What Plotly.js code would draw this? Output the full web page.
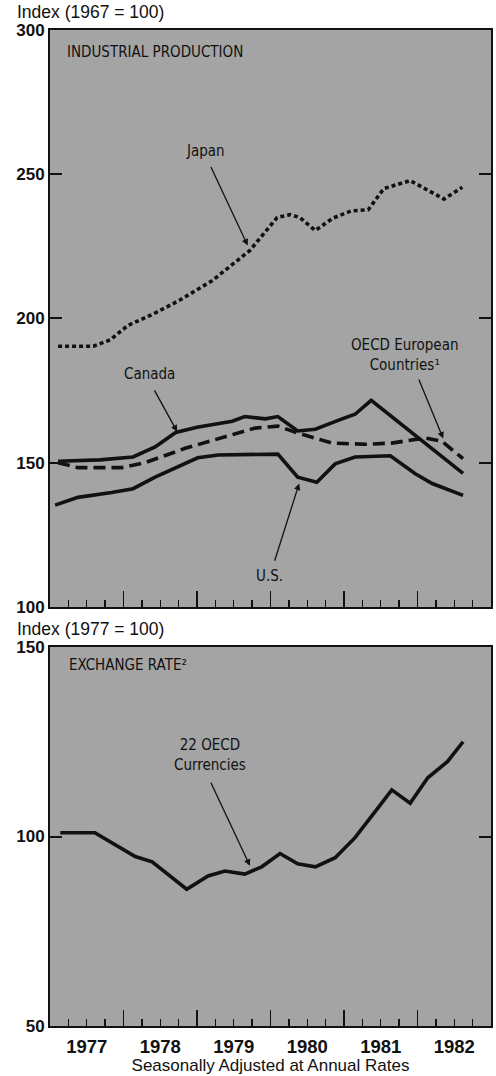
<!DOCTYPE html>
<html>
<head>
<meta charset="utf-8">
<script src="https://cdn.plot.ly/plotly-3.0.1.min.js"></script>
<style>html,body{margin:0;padding:0;background:#fff;} #chart{width:496px;height:1076px;}</style>
</head>
<body>
<div id="chart"></div>
<script>
// ---- Data ----
const yearBoundaries = [1978, 1979, 1980, 1981, 1982];
const yearLabelPos = [1977.5, 1978.5, 1979.5, 1980.5, 1981.5, 1982.5];
const yearLabels = ['1977', '1978', '1979', '1980', '1981', '1982'];
const ipTicks = [100, 150, 200, 250, 300];
const fxTicks = [50, 100, 150];

const japanT = [1977.11, 1977.59, 1977.82, 1978.06, 1978.40, 1978.74, 1979.20, 1979.45, 1979.72, 1980.09, 1980.27, 1980.40, 1980.61, 1980.85, 1981.10, 1981.33, 1981.54, 1981.90, 1982.36, 1982.61];
const japanV = [190.4, 190.4, 192.6, 197.6, 201.5, 206, 213, 218, 223.6, 235, 236, 235, 230.5, 234.8, 237.3, 237.7, 245, 247.8, 241.4, 245.5];

const canadaT = [1977.11, 1977.68, 1978.13, 1978.43, 1978.71, 1979.00, 1979.48, 1979.65, 1979.93, 1980.10, 1980.37, 1980.61, 1980.92, 1981.15, 1981.37, 1982.62];
const canadaV = [150.5, 151, 152, 155.5, 160.5, 162.3, 164.4, 166, 165.2, 166, 161, 161.6, 164.7, 166.8, 171.6, 146.3];

const oecdT = [1977.11, 1977.38, 1977.98, 1978.29, 1978.84, 1979.34, 1979.79, 1980.10, 1980.37, 1980.84, 1981.29, 1981.65, 1982.10, 1982.33, 1982.62];
const oecdV = [150, 148.3, 148.3, 150, 155, 158.6, 162, 162.7, 160.3, 156.8, 156.4, 156.8, 158.6, 157.5, 151.4];

const usT = [1977.07, 1977.38, 1977.84, 1978.13, 1978.43, 1978.70, 1979.01, 1979.29, 1980.10, 1980.37, 1980.63, 1980.88, 1981.15, 1981.63, 1981.97, 1982.20, 1982.62];
const usV = [135.3, 138, 139.7, 141, 145, 148, 151.7, 152.7, 153, 145, 143.2, 149.6, 152, 152.4, 146.2, 142.8, 138.7];

const fxT = [1977.14, 1977.61, 1978.16, 1978.39, 1978.86, 1979.15, 1979.38, 1979.65, 1979.88, 1980.13, 1980.37, 1980.61, 1980.88, 1981.15, 1981.46, 1981.65, 1981.90, 1982.14, 1982.41, 1982.62];
const fxV = [101, 101, 94.7, 93.3, 86.1, 89.6, 90.9, 90.1, 92, 95.5, 92.8, 92, 94.4, 99.7, 107.5, 112.3, 108.8, 115.5, 119.8, 125];

// ---- Styling ----
const INK = '#111';
const BG = '#a4a4a4';
const LW = 3.6;
const MAIN_FONT = 'Liberation Sans, Arial, Helvetica, sans-serif';
const NARROW_FONT = 'Liberation Sans Narrow, DejaVu Sans Condensed, Liberation Sans, Arial, sans-serif';

function line(x, y, dash, xa, ya) {
  return {x: x, y: y, type: 'scatter', mode: 'lines', xaxis: xa, yaxis: ya,
    line: {color: INK, width: LW, dash: dash, shape: 'linear'}, hoverinfo: 'skip', showlegend: false};
}

const traces = [
  line(japanT, japanV, '4px,3px', 'x', 'y'),
  line(oecdT, oecdV, '12px,6px', 'x', 'y'),
  line(canadaT, canadaV, 'solid', 'x', 'y'),
  line(usT, usV, 'solid', 'x', 'y'),
  line(fxT, fxV, 'solid', 'x2', 'y2'),
  {x: [1977], y: [null], type: 'scatter', mode: 'lines', xaxis: 'x3', yaxis: 'y2', hoverinfo: 'skip', showlegend: false}
];

const xCommon = {
  range: [1977, 1983], tickmode: 'array', tickvals: yearBoundaries,
  ticks: 'inside', ticklen: 16, tickwidth: 1.6, tickcolor: INK,
  showticklabels: false, showline: true, linecolor: INK, linewidth: 2, mirror: true,
  showgrid: false, zeroline: false, fixedrange: true,
  minor: {tickmode: 'linear', tick0: 1977, dtick: 0.25, ticks: 'inside', ticklen: 7, tickwidth: 1.4, tickcolor: INK, showgrid: false}
};
function yAxis(domain, range, vals) {
  return {domain: domain, range: range, tickmode: 'array', tickvals: vals,
    ticks: 'inside', ticklen: 12, tickwidth: 2, tickcolor: INK, mirror: 'ticks',
    showline: true, linecolor: INK, linewidth: 2, showgrid: false, zeroline: false, fixedrange: true,
    tickfont: {family: MAIN_FONT, size: 17, color: INK, weight: 'bold'}};
}

const arrowBase = {showarrow: true, text: '', axref: 'x', ayref: 'y', arrowhead: 2, arrowsize: 1, arrowwidth: 1.3, arrowcolor: INK, standoff: 0};
const narrow = {family: NARROW_FONT, size: 15, color: INK};

const layout = {
  width: 496, height: 1076,
  paper_bgcolor: '#ffffff', plot_bgcolor: BG,
  margin: {l: 50, r: 5, t: 30, b: 50, autoexpand: false},
  showlegend: false,
  font: {family: MAIN_FONT, color: INK},
  xaxis: Object.assign({}, xCommon, {anchor: 'y', domain: [0, 1]}),
  yaxis: Object.assign(yAxis([0.4207, 1], [100, 300], ipTicks), {anchor: 'x'}),
  xaxis2: Object.assign({}, xCommon, {anchor: 'y2', domain: [0, 1]}),
  yaxis2: Object.assign(yAxis([0, 0.3805], [50, 150], fxTicks), {anchor: 'x2'}),
  xaxis3: {overlaying: 'x2', anchor: 'y2', range: [1977, 1983], tickmode: 'array',
    tickvals: yearLabelPos, ticktext: yearLabels, ticks: '', showline: false, showgrid: false, zeroline: false,
    fixedrange: true, ticklabelstandoff: 7,
    tickfont: {family: MAIN_FONT, size: 18.5, color: INK, weight: 'bold'},
    title: {text: 'Seasonally Adjusted at Annual Rates', standoff: 2, font: {family: MAIN_FONT, size: 17, color: INK}}},
  annotations: [
    {xref: 'paper', yref: 'paper', x: -0.079, y: 1.0181, xanchor: 'left', yanchor: 'middle', showarrow: false,
      text: 'Index (1967 = 100)', font: {family: MAIN_FONT, size: 17.5, color: INK}},
    {xref: 'paper', yref: 'paper', x: -0.079, y: 0.3986, xanchor: 'left', yanchor: 'middle', showarrow: false,
      text: 'Index (1977 = 100)', font: {family: MAIN_FONT, size: 17.5, color: INK}},
    {xref: 'x', yref: 'y', x: 1977.2, y: 292.4, xanchor: 'left', yanchor: 'middle', showarrow: false,
      text: 'INDUSTRIAL PRODUCTION', font: narrow},
    {xref: 'x', yref: 'y', x: 1979.11, y: 258, xanchor: 'center', yanchor: 'middle', showarrow: false,
      text: 'Japan', font: narrow},
    Object.assign({}, arrowBase, {xref: 'x', yref: 'y', x: 1979.69, y: 225.3, ax: 1979.18, ay: 253}),
    {xref: 'x', yref: 'y', x: 1978.36, y: 180.8, xanchor: 'center', yanchor: 'middle', showarrow: false,
      text: 'Canada', font: narrow},
    Object.assign({}, arrowBase, {xref: 'x', yref: 'y', x: 1978.73, y: 160.8, ax: 1978.41, ay: 175.6}),
    {xref: 'x', yref: 'y', x: 1981.83, y: 187.4, xanchor: 'center', yanchor: 'middle', showarrow: false,
      text: 'OECD European<br>Countries¹', font: narrow},
    Object.assign({}, arrowBase, {xref: 'x', yref: 'y', x: 1982.35, y: 158.4, ax: 1982.01, ay: 179.4}),
    {xref: 'x', yref: 'y', x: 1979.99, y: 110.7, xanchor: 'center', yanchor: 'middle', showarrow: false,
      text: 'U.S.', font: narrow},
    Object.assign({}, arrowBase, {xref: 'x', yref: 'y', x: 1980.39, y: 142.8, ax: 1980.05, ay: 115.5}),
    {xref: 'x2', yref: 'y2', x: 1977.23, y: 145.3, xanchor: 'left', yanchor: 'middle', showarrow: false,
      text: 'EXCHANGE RATE²', font: narrow},
    {xref: 'x2', yref: 'y2', x: 1979.18, y: 121.4, xanchor: 'center', yanchor: 'middle', showarrow: false,
      text: '22 OECD<br>Currencies', font: narrow},
    Object.assign({}, arrowBase, {xref: 'x2', yref: 'y2', axref: 'x2', ayref: 'y2', x: 1979.72, y: 92.3, ax: 1979.18, ay: 114.6})
  ]
};

Plotly.newPlot('chart', traces, layout, {staticPlot: true, displayModeBar: false});
</script>
</body>
</html>
